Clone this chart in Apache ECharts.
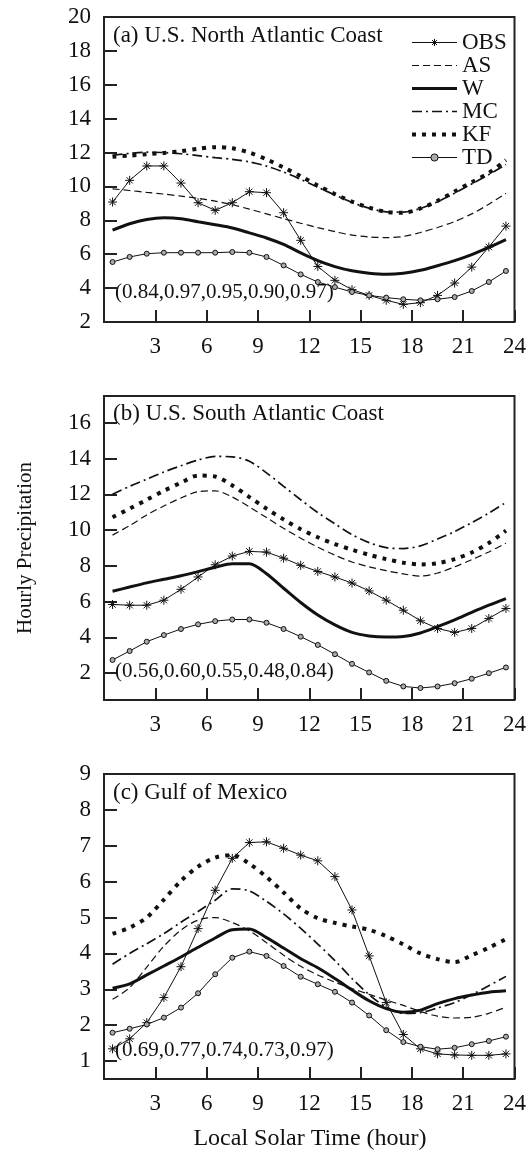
<!DOCTYPE html>
<html>
<head>
<meta charset="utf-8">
<script src="https://cdn.jsdelivr.net/npm/echarts@6/dist/echarts.min.js"></script>
<style>
  html, body { margin: 0; padding: 0; background: #fff; }
  #chart { width: 529px; height: 1155px; }
</style>
</head>
<body>
<div id="chart"></div>
<script>
// local solar time of each value (hour)
const hours = [0.5, 1.5, 2.5, 3.5, 4.5, 5.5, 6.5, 7.5, 8.5, 9.5, 10.5, 11.5,
  12.5, 13.5, 14.5, 15.5, 16.5, 17.5, 18.5, 19.5, 20.5, 21.5, 22.5, 23.5];
const seriesNames = ['OBS', 'AS', 'W', 'MC', 'KF', 'TD'];

// (a) U.S. North Atlantic Coast
const obsA = [9.08, 10.36, 11.21, 11.21, 10.2, 9.04, 8.59, 9.04, 9.69, 9.63, 8.45, 6.82,
  5.28, 4.46, 3.91, 3.57, 3.28, 3.04, 3.14, 3.57, 4.3, 5.24, 6.43, 7.66];
const asA = [9.86, 9.76, 9.65, 9.55, 9.43, 9.3, 9.13, 8.92, 8.66, 8.38, 8.1, 7.83,
  7.57, 7.33, 7.13, 7.02, 6.98, 7.05, 7.28, 7.58, 7.93, 8.38, 8.95, 9.6];
const wA = [7.42, 7.8, 8.05, 8.15, 8.1, 7.92, 7.74, 7.55, 7.26, 6.96, 6.58, 6.08,
  5.62, 5.27, 5.02, 4.88, 4.82, 4.88, 5.05, 5.32, 5.62, 5.98, 6.4, 6.86];
const mcA = [11.84, 11.95, 12.02, 12.0, 11.93, 11.82, 11.7, 11.6, 11.45, 11.2, 10.85, 10.42,
  9.95, 9.5, 9.05, 8.72, 8.5, 8.48, 8.7, 9.1, 9.6, 10.15, 10.7, 11.3];
const kfA = [11.75, 11.82, 11.9, 11.98, 12.08, 12.22, 12.32, 12.25, 12.0, 11.6, 11.12, 10.6,
  10.05, 9.55, 9.1, 8.75, 8.5, 8.45, 8.7, 9.15, 9.7, 10.25, 10.8, 11.55];
const tdA = [5.54, 5.84, 6.03, 6.09, 6.09, 6.09, 6.09, 6.13, 6.09, 5.84, 5.34, 4.81,
  4.36, 4.06, 3.77, 3.57, 3.44, 3.34, 3.28, 3.34, 3.47, 3.83, 4.36, 5.01];

// (b) U.S. South Atlantic Coast
const obsB = [5.84, 5.8, 5.8, 6.08, 6.69, 7.38, 8.06, 8.55, 8.81, 8.77, 8.43, 8.03,
  7.69, 7.38, 7.04, 6.6, 6.08, 5.52, 4.93, 4.5, 4.28, 4.5, 5.06, 5.62];
const asB = [9.72, 10.25, 10.85, 11.35, 11.8, 12.15, 12.2, 11.85, 11.3, 10.7, 10.1, 9.55,
  9.05, 8.6, 8.22, 7.95, 7.73, 7.55, 7.43, 7.6, 7.95, 8.35, 8.78, 9.27];
const wB = [6.58, 6.82, 7.05, 7.25, 7.45, 7.68, 7.92, 8.12, 8.12, 7.56, 6.75, 5.95,
  5.25, 4.7, 4.28, 4.08, 4.02, 4.05, 4.25, 4.6, 4.98, 5.4, 5.8, 6.17];
const mcB = [12.0, 12.45, 12.85, 13.25, 13.6, 13.92, 14.12, 14.1, 13.85, 13.2, 12.45, 11.7,
  10.98, 10.35, 9.75, 9.3, 9.02, 8.97, 9.12, 9.5, 9.92, 10.42, 10.95, 11.55];
const kfB = [10.72, 11.2, 11.7, 12.2, 12.65, 13.05, 13.0, 12.5, 11.85, 11.2, 10.6, 10.05,
  9.6, 9.22, 8.9, 8.62, 8.38, 8.18, 8.08, 8.15, 8.38, 8.75, 9.28, 9.97];
const tdB = [2.74, 3.24, 3.76, 4.13, 4.47, 4.73, 4.91, 5.0, 5.0, 4.82, 4.47, 4.04,
  3.58, 3.06, 2.52, 2.04, 1.57, 1.26, 1.17, 1.26, 1.44, 1.69, 2.0, 2.32];

// (c) Gulf of Mexico
const obsC = [1.34, 1.62, 2.07, 2.77, 3.63, 4.69, 5.76, 6.65, 7.09, 7.11, 6.93, 6.74,
  6.58, 6.14, 5.21, 3.93, 2.63, 1.74, 1.34, 1.2, 1.17, 1.16, 1.16, 1.2];
const asC = [2.72, 3.05, 3.62, 4.2, 4.65, 4.93, 5.0, 4.86, 4.63, 4.3, 3.95, 3.64,
  3.4, 3.2, 3.02, 2.86, 2.7, 2.55, 2.38, 2.25, 2.2, 2.22, 2.33, 2.5];
const wC = [3.03, 3.15, 3.4, 3.65, 3.9, 4.17, 4.43, 4.66, 4.68, 4.44, 4.15, 3.85,
  3.6, 3.3, 2.98, 2.68, 2.46, 2.36, 2.42, 2.6, 2.74, 2.84, 2.92, 2.96];
const mcC = [3.7, 4.0, 4.27, 4.55, 4.87, 5.17, 5.48, 5.8, 5.74, 5.45, 5.1, 4.7,
  4.26, 3.8, 3.3, 2.85, 2.5, 2.33, 2.35, 2.48, 2.63, 2.85, 3.1, 3.36];
const kfC = [4.55, 4.72, 5.0, 5.5, 6.02, 6.42, 6.67, 6.74, 6.5, 6.13, 5.7, 5.25,
  4.98, 4.85, 4.75, 4.66, 4.48, 4.25, 4.0, 3.84, 3.76, 3.95, 4.16, 4.4];
const tdC = [1.79, 1.9, 2.02, 2.21, 2.49, 2.89, 3.42, 3.88, 4.05, 3.93, 3.65, 3.35,
  3.14, 2.93, 2.63, 2.27, 1.86, 1.53, 1.4, 1.33, 1.37, 1.47, 1.56, 1.68];

// y tick labels per panel
const yTicksA = [2, 4, 6, 8, 10, 12, 14, 16, 18, 20];
const yTicksB = [2, 4, 6, 8, 10, 12, 14, 16];
const yTicksC = [1, 2, 3, 4, 5, 6, 7, 8, 9];

const panelTitles = ['(a) U.S. North Atlantic Coast', '(b) U.S. South Atlantic Coast', '(c) Gulf of Mexico'];
const correlations = ['(0.84,0.97,0.95,0.90,0.97)', '(0.56,0.60,0.55,0.48,0.84)', '(0.69,0.77,0.74,0.73,0.97)'];

const FONT = 'Liberation Serif';
const INK = '#111';
const STAR = 'path://M5 0L5 10M0 5L10 5M1.5 1.5L8.5 8.5M1.5 8.5L8.5 1.5';

const panels = [
  { top: 17, height: 305, min: 2, max: 20, ticks: yTicksA, values: [obsA, asA, wA, mcA, kfA, tdA], titleTop: 24, noteTop: 282 },
  { top: 396, height: 304, min: 0.5, max: 17.5, ticks: yTicksB, values: [obsB, asB, wB, mcB, kfB, tdB], titleTop: 402, noteTop: 661 },
  { top: 774, height: 305, min: 0.5, max: 9, ticks: yTicksC, values: [obsC, asC, wC, mcC, kfC, tdC], titleTop: 781, noteTop: 1040 }
];

const seriesLook = {
  OBS: { lineStyle: { width: 1 }, symbol: STAR, symbolSize: 9,
    itemStyle: { color: INK, borderColor: INK, borderWidth: 1 } },
  AS: { lineStyle: { width: 1.2, type: [7, 4] }, smooth: 0.3 },
  W: { lineStyle: { width: 3 }, smooth: 0.3 },
  MC: { lineStyle: { width: 1.7, type: [10, 4, 2, 4] }, smooth: 0.3 },
  KF: { lineStyle: { width: 4, type: [4, 6] }, smooth: 0.3 },
  TD: { lineStyle: { width: 1 }, symbol: 'circle', symbolSize: 5,
    itemStyle: { color: '#aaa', borderColor: INK, borderWidth: 1 } }
};

const grids = [], xAxes = [], yAxes = [], series = [], titles = [];
const textBase = { fontFamily: FONT, fontWeight: 'normal', color: INK };

panels.forEach((p, i) => {
  grids.push({ left: 104, width: 412, top: p.top, height: p.height,
    show: true, borderColor: '#222', borderWidth: 2, backgroundColor: 'transparent' });
  xAxes.push({
    type: 'value', gridIndex: i, min: 0, max: 24, interval: 3,
    axisLine: { show: false },
    axisTick: { inside: true, length: 12, lineStyle: { color: '#222', width: 2 } },
    splitLine: { show: false },
    axisLabel: { ...textBase, fontSize: 23, margin: 13, showMinLabel: true, showMaxLabel: true,
      formatter: v => (v === 0 ? '' : String(v)) }
  });
  yAxes.push({
    type: 'value', gridIndex: i, min: p.min, max: p.max,
    axisLine: { show: false },
    axisTick: { inside: true, length: 13, customValues: p.ticks, lineStyle: { color: '#222', width: 2 } },
    splitLine: { show: false },
    axisLabel: { ...textBase, fontSize: 23, margin: 13, customValues: p.ticks }
  });
  seriesNames.forEach((name, k) => {
    const look = seriesLook[name];
    series.push({
      name, type: 'line', xAxisIndex: i, yAxisIndex: i,
      data: hours.map((h, j) => [h, p.values[k][j]]),
      symbol: look.symbol || 'none',
      symbolSize: look.symbolSize || 0,
      smooth: look.smooth || false,
      itemStyle: look.itemStyle || { color: INK },
      lineStyle: { color: INK, cap: 'butt', ...look.lineStyle },
      z: name === 'OBS' || name === 'TD' ? 3 : 2
    });
  });
  titles.push({ text: panelTitles[i], left: 113, top: p.titleTop, padding: 0,
    textStyle: { ...textBase, fontSize: 23, lineHeight: 23 } });
  titles.push({ text: correlations[i], left: 115, top: p.noteTop, padding: 0,
    textStyle: { ...textBase, fontSize: 21, lineHeight: 21 } });
});

// legend keys repeat each series' own line style; only OBS and TD show a marker
const legendData = seriesNames.map(name => {
  const look = seriesLook[name];
  return {
    name,
    lineStyle: { color: INK, ...look.lineStyle },
    itemStyle: look.itemStyle || { color: 'transparent', borderWidth: 0 }
  };
});

const chart = echarts.init(document.getElementById('chart'), null, { renderer: 'canvas' });
chart.setOption({
  animation: false,
  backgroundColor: '#fff',
  color: [INK],
  title: titles,
  legend: {
    data: legendData, orient: 'vertical', left: 410, top: 31, padding: 0,
    itemWidth: 45, itemHeight: 9, itemGap: 0, selectedMode: false,
    textStyle: { ...textBase, fontSize: 23, lineHeight: 23 }
  },
  grid: grids,
  xAxis: xAxes,
  yAxis: yAxes,
  series,
  graphic: [
    { type: 'text', x: 25, y: 548, rotation: Math.PI / 2,
      style: { text: 'Hourly Precipitation', font: '21px "Liberation Serif"', fill: INK, align: 'center', verticalAlign: 'middle' } },
    { type: 'text', x: 310, y: 1139,
      style: { text: 'Local Solar Time (hour)', font: '24px "Liberation Serif"', fill: INK, align: 'center', verticalAlign: 'middle' } }
  ]
});
</script>
</body>
</html>
